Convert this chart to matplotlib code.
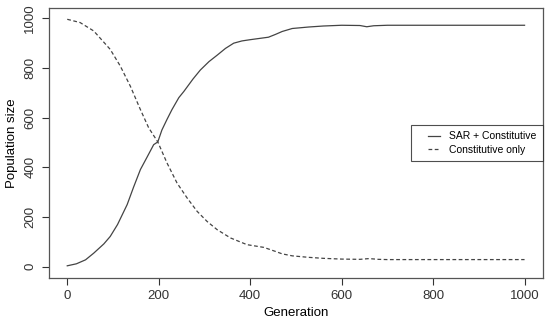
import numpy as np
import matplotlib
matplotlib.use("Agg")
from matplotlib import pyplot as plt
from matplotlib.legend_handler import HandlerLine2D

plt.rcParams['font.family'] = ['Liberation Sans', 'DejaVu Sans']

# values
gen_sar = [0, 20, 40, 58, 80, 94, 110, 131, 145, 160, 174, 189, 198, 207, 218, 229, 244, 255,
           275, 291, 310, 328, 346, 364, 382, 400, 420, 440, 455, 470, 492, 528, 560,
           600, 640, 655, 670, 700, 1000]
sar_const = [4, 12, 28, 55, 92, 122, 170, 250, 320, 391, 439, 491, 502, 550, 592, 632, 680, 705,
             755, 791, 825, 851, 878, 899, 908, 913, 918, 923, 934, 946, 958, 964, 968,
             971, 970, 965, 969, 971, 971]

gen_const = [0, 28, 58, 94, 116, 138, 160, 178, 198, 218, 240, 262, 284, 306, 328, 357,
             393, 430, 455, 470, 492, 528, 560, 600, 640, 660, 680, 700, 1000]
const_only = [995, 982, 948, 874, 807, 726, 632, 559, 502, 418, 337, 277, 223, 182, 149, 116,
              89, 78, 62, 52, 44, 38, 34, 31, 30, 33, 30, 29, 29]

xticks = [0, 200, 400, 600, 800, 1000]
yticks = [0, 200, 400, 600, 800, 1000]


class ShortLine(HandlerLine2D):
    # R-style legend: short line sitting close to the label
    def create_artists(self, legend, orig_handle, xdescent, ydescent, width, height, fontsize, trans):
        arts = super().create_artists(legend, orig_handle, xdescent, ydescent, width, height, fontsize, trans)
        for a in arts:
            xd = np.asarray(a.get_xdata(), dtype=float)
            if len(xd) >= 2:
                a.set_xdata(np.linspace(xd[0] + 0.5 * (xd[-1] - xd[0]), xd[-1], len(xd)))
        return arts


fig = plt.figure(figsize=(5.5, 3.24), dpi=100)
ax = fig.add_axes([0.089, 0.142, 0.898, 0.833])

l1, = ax.plot(gen_sar, sar_const, color='#444444', lw=0.9, label='SAR + Constitutive')
l2, = ax.plot(gen_const, const_only, color='#444444', lw=0.9, ls=(0, (3, 2)), label='Constitutive only')

ax.set_xlim(-40, 1040)
ax.set_ylim(-45, 1040)
ax.set_xticks(xticks)
ax.set_yticks(yticks)
ax.set_yticklabels([str(v) for v in yticks], rotation=90, va='center')
ax.tick_params(direction='out', length=5, width=0.8, colors='#333333', labelsize=9.5, pad=4)
for s in ax.spines.values():
    s.set_color('#555555')
    s.set_linewidth(0.9)

ax.set_xlabel('Generation', fontsize=9.5, labelpad=3)
ax.set_ylabel('Population size', fontsize=9.5, labelpad=5)

leg = ax.legend(loc='center right', bbox_to_anchor=(1.0, 0.5), fontsize=7.5, frameon=True,
                fancybox=False, borderaxespad=0, handlelength=2.2, handletextpad=0.9,
                labelspacing=0.3, borderpad=0.6,
                handler_map={l1: ShortLine(), l2: ShortLine()})
leg.get_frame().set_edgecolor('#222222')
leg.get_frame().set_linewidth(0.8)

fig.savefig('out.png', dpi=100)
